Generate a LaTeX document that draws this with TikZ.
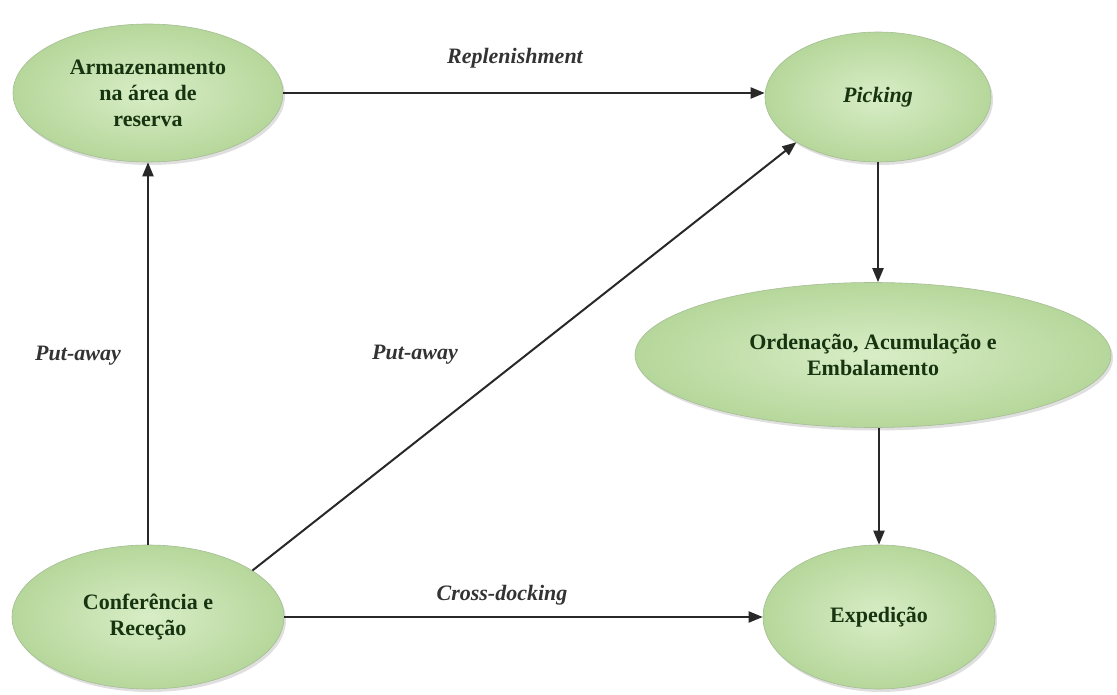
\documentclass[tikz,border=0pt]{standalone}
\usepackage{fontspec}
\setmainfont{Liberation Serif}
\usetikzlibrary{shapes.geometric,arrows.meta,shadows}
\definecolor{stagein}{RGB}{216,237,198}
\definecolor{stageout}{RGB}{182,215,155}
\definecolor{stagetext}{RGB}{22,52,16}
\definecolor{flowline}{RGB}{40,40,40}
\tikzset{
  stage/.style={ellipse, draw=stageout!70!gray, line width=0.6pt,
    inner color=stagein, outer color=stageout, inner sep=0pt,
    text=stagetext, align=center, font=\fontsize{22}{26}\selectfont\bfseries,
    drop shadow={shadow xshift=2pt, shadow yshift=-3pt, opacity=0.25, fill=gray}},
  flow/.style={draw=flowline, line width=2pt,
    -{Triangle[length=14pt,width=11pt]}},
  flowlabel/.style={font=\fontsize{22}{26}\selectfont\bfseries\itshape, text=black!80}
}
\begin{document}
\begin{tikzpicture}[x=1pt,y=-1pt]
\useasboundingbox (0,0) rectangle (1117,695);

% process stages
\node[stage, minimum width=270pt, minimum height=138pt] (arm) at (148,93)
  {Armazenamento\\na área de\\reserva};
\node[stage, minimum width=226pt, minimum height=130pt] (pick) at (878,97)
  {\itshape Picking};
\node[stage, minimum width=476pt, minimum height=145pt] (ord) at (873,355)
  {Ordenação, Acumulação e\\Embalamento};
\node[stage, minimum width=272pt, minimum height=144pt] (conf) at (148,617)
  {Conferência e\\Receção};
\node[stage, minimum width=232pt, minimum height=144pt] (exp) at (879,617)
  {Expedição};

% flows between stages
\draw[flow] (arm.east) -- (arm.east -| pick.west);
\draw[flow] (conf.north) -- (arm.south);
\draw[flow] (conf.24) -- (pick.209);
\draw[flow] (pick.south) -- (pick.south |- ord.north);
\draw[flow] (exp.north |- ord.south) -- (exp.north);
\draw[flow] (conf.east) -- (exp.west);

% flow labels
\node[flowlabel] (lrep) at (515,58) {Replenishment};
\node[flowlabel] (lput1) at (78,356) {Put-away};
\node[flowlabel] (lput2) at (415,355) {Put-away};
\node[flowlabel] (lcross) at (502,595) {Cross-docking};
\end{tikzpicture}
\end{document}
